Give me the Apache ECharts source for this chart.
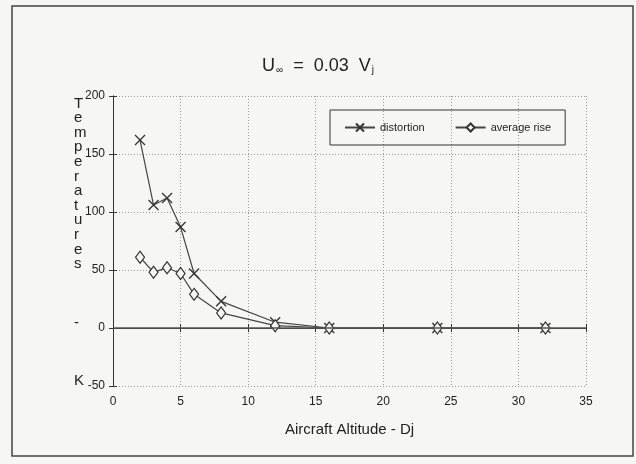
<!DOCTYPE html>
<html>
<head>
<meta charset="utf-8">
<script src="https://cdn.jsdelivr.net/npm/echarts@6/dist/echarts.min.js"></script>
<style>
  html, body { margin: 0; padding: 0; background: #f6f6f5; }
  #chart { width: 636px; height: 464px; }
</style>
</head>
<body>
<div id="chart"></div>
<script>
// altitudes (Dj) and temperatures (K)
const altitude = [2, 3, 4, 5, 6, 8, 12, 16, 24, 32]
const distortion = [162, 106, 112, 87, 47, 23, 5, 0, 0, 0]
const averageRise = [61, 48, 52, 47, 29, 13, 2, 0, 0, 0]
const xTicks = [0, 5, 10, 15, 20, 25, 30, 35]
const yTicks = [-50, 0, 50, 100, 150, 200]

const ink = '#333'
const font = 'Liberation Sans, Arial, sans-serif'
const crossPath = 'path://M0,0L10,10M10,0L0,10'

const chart = echarts.init(document.getElementById('chart'))

const axisCommon = {
    axisLine: { show: true, lineStyle: { color: ink, width: 1 } },
    axisTick: { show: true, inside: true, length: 4, lineStyle: { color: ink } },
    splitLine: { show: false }
}

chart.setOption({
    backgroundColor: '#f6f6f5',
    animation: false,
    title: {
        text: '{u|U}{sub|∞}{u|  =  0.03  V}{sub|j}',
        left: 'center',
        top: 52,
        textStyle: {
            fontWeight: 'normal',
            rich: {
                u: { fontFamily: font, fontSize: 18, fontWeight: 'normal', color: '#222' },
                sub: { fontFamily: font, fontSize: 10, fontWeight: 'normal', color: '#222', verticalAlign: 'bottom', padding: [8, 0, 0, 1] }
            }
        }
    },
    legend: {
        left: 330,
        top: 110,
        padding: [11, 14, 11, 14],
        itemGap: 30,
        itemWidth: 30,
        itemHeight: 10,
        borderColor: ink,
        borderWidth: 1,
        textStyle: { fontFamily: font, fontSize: 11, color: '#222' },
        data: ['distortion', 'average rise']
    },
    grid: { left: 113, right: 50, top: 96, bottom: 78 },
    xAxis: [
        {
            type: 'value', min: 0, max: 35, interval: 5,
            name: 'Aircraft Altitude - Dj',
            nameLocation: 'middle',
            nameGap: 36,
            nameTextStyle: { fontFamily: font, fontSize: 15, color: '#222' },
            axisLabel: { fontFamily: font, fontSize: 12, color: '#222', margin: 10 },
            ...axisCommon,
            splitLine: { show: true, lineStyle: { color: '#999', type: [1, 2], width: 1 } }
        },
        { type: 'value', position: 'top', min: 0, max: 35, interval: 5, axisLabel: { show: false }, ...axisCommon }
    ],
    yAxis: [
        {
            type: 'value', min: -50, max: 200, interval: 50,
            axisLabel: { fontFamily: font, fontSize: 12, color: '#222', margin: 8 },
            ...axisCommon,
            splitLine: { show: true, lineStyle: { color: '#999', type: [1, 2], width: 1 } }
        },
        { type: 'value', position: 'right', min: -50, max: 200, interval: 50, axisLabel: { show: false }, ...axisCommon }
    ],
    graphic: [
        {
            type: 'rect',
            shape: { x: 12, y: 6, width: 621, height: 450 },
            style: { fill: 'none', stroke: '#444', lineWidth: 1.5 },
            silent: true
        },
        {
            type: 'text',
            left: 74,
            top: 96,
            style: {
                text: 'T\ne\nm\np\ne\nr\na\nt\nu\nr\ne\ns\n\n\n\n-\n\n\n\nK',
                fontFamily: font,
                fontSize: 15,
                lineHeight: 14.6,
                align: 'center',
                fill: '#222'
            }
        }
    ],
    series: [
        {
            name: 'distortion',
            type: 'line',
            data: altitude.map((x, i) => [x, distortion[i]]),
            symbol: crossPath,
            symbolSize: 10,
            lineStyle: { color: '#444', width: 1.2 },
            itemStyle: { color: 'none', borderColor: '#333', borderWidth: 1.3 },
            z: 3,
            markLine: {
                silent: true,
                symbol: 'none',
                label: { show: false },
                lineStyle: { color: '#555', type: 'solid', width: 1.5 },
                data: [{ yAxis: 0 }]
            }
        },
        {
            name: 'average rise',
            type: 'line',
            data: altitude.map((x, i) => [x, averageRise[i]]),
            symbol: 'diamond',
            symbolSize: [9, 12],
            lineStyle: { color: '#444', width: 1.2 },
            itemStyle: { color: '#f6f6f5', borderColor: '#333', borderWidth: 1.2 },
            z: 3
        }
    ]
})
</script>
</body>
</html>
